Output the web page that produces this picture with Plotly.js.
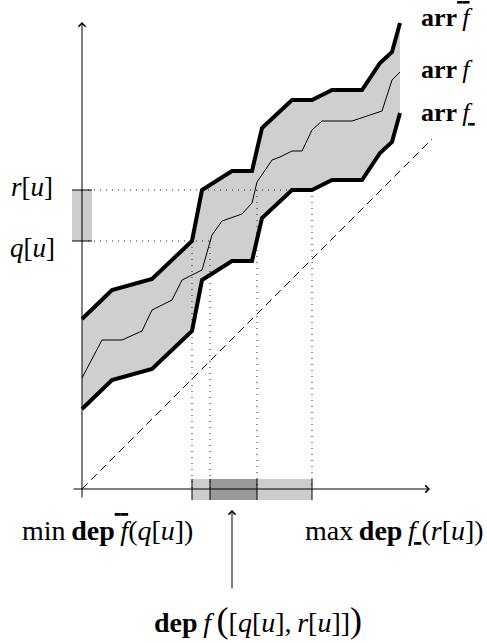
<!DOCTYPE html>
<html>
<head>
<meta charset="utf-8">
<script src="https://cdn.plot.ly/plotly-3.0.1.min.js"></script>
<style>html,body{margin:0;padding:0;background:#fff;}</style>
</head>
<body>
<div id="chart" style="width:487px;height:643px;"></div>
<script>
// ---- data ----
const bandX      = [0, 30, 70, 110, 120, 150, 170, 180, 210, 230, 250, 280, 298, 310, 318];
const arrUpper   = [170, 199, 210, 248, 299, 318, 318, 361, 389, 389, 399, 399, 426, 437, 466];
const arrLower   = [80, 109, 120, 158, 209, 228, 228, 271, 299, 299, 309, 309, 336, 347, 376];
const midX       = [0, 20, 40, 60, 70, 90, 100, 120, 130, 140, 160, 170, 175, 190, 198, 210, 220, 230, 240, 270, 300, 310, 318];
const arrMid     = [111, 149, 149, 158, 179, 189, 209, 219, 254, 268, 275, 286, 307, 329, 332, 338, 338, 359, 368, 368, 378, 409, 417];
const qU = 248;            // q[u]
const rU = 299;            // r[u]
const minDepUpperQ = 110;  // min dep upper(q[u])
const depA = 128;          // dep f(q[u])
const depB = 175;          // dep f(r[u])
const maxDepLowerR = 230;  // max dep lower(r[u])
const diagX = [0, 350];
const diagY = [0, 350];

const FONT = '"Liberation Serif", "Times New Roman", serif';
const dotLine = {color: '#222', width: 1, dash: '1px,5px'};

const traces = [
  {x: bandX, y: arrLower, mode: 'lines', line: {width: 0, color: 'rgba(0,0,0,0)'}, hoverinfo: 'skip'},
  {x: bandX, y: arrUpper, mode: 'lines', fill: 'tonexty', fillcolor: '#cfcfcf', line: {width: 0, color: 'rgba(0,0,0,0)'}, hoverinfo: 'skip'},
  {x: [0, maxDepLowerR], y: [rU, rU], mode: 'lines', line: dotLine},
  {x: [0, depA], y: [qU, qU], mode: 'lines', line: dotLine},
  {x: [minDepUpperQ, minDepUpperQ], y: [qU, 0], mode: 'lines', line: dotLine},
  {x: [depA, depA], y: [qU, 0], mode: 'lines', line: dotLine},
  {x: [depB, depB], y: [rU, 0], mode: 'lines', line: dotLine},
  {x: [maxDepLowerR, maxDepLowerR], y: [rU, 0], mode: 'lines', line: dotLine},
  {x: diagX, y: diagY, mode: 'lines', line: {color: '#000', width: 1, dash: '8px,5px'}},
  {x: midX, y: arrMid, mode: 'lines', line: {color: '#000', width: 1}},
  {x: bandX, y: arrUpper, mode: 'lines', line: {color: '#000', width: 4}},
  {x: bandX, y: arrLower, mode: 'lines', line: {color: '#000', width: 4}}
];

const shapes = [
  {type: 'rect', x0: -10, x1: 10, y0: qU, y1: rU, fillcolor: '#cccccc', line: {width: 0}, layer: 'below'},
  {type: 'rect', x0: minDepUpperQ, x1: maxDepLowerR, y0: -11, y1: 10, fillcolor: '#cccccc', line: {width: 0}, layer: 'below'},
  {type: 'rect', x0: depA, x1: depB, y0: -11, y1: 10, fillcolor: '#999999', line: {width: 0}, layer: 'below'},
  {type: 'line', x0: -10, x1: 10, y0: qU, y1: qU, line: {color: '#000', width: 1}},
  {type: 'line', x0: -10, x1: 10, y0: rU, y1: rU, line: {color: '#000', width: 1}},
  {type: 'line', x0: minDepUpperQ, x1: minDepUpperQ, y0: -11, y1: 10, line: {color: '#000', width: 1}},
  {type: 'line', x0: depA, x1: depA, y0: -11, y1: 10, line: {color: '#000', width: 1}},
  {type: 'line', x0: depB, x1: depB, y0: -11, y1: 10, line: {color: '#000', width: 1}},
  {type: 'line', x0: maxDepLowerR, x1: maxDepLowerR, y0: -11, y1: 10, line: {color: '#000', width: 1}}
];

const ov = '<span style="text-decoration:overline;text-decoration-thickness:1.5px">\u2009<i>f</i></span>';
const un = '<span style="text-decoration:underline;text-decoration-thickness:1.5px;text-underline-offset:7px"><i>f</i>\u2009</span>';
const bigL = '<span style="font-size:36px">(</span>';
const bigR = '<span style="font-size:36px">)</span>';

function arrow(x, y, ax, ay) {
  return {x: x, y: y, ax: ax, ay: ay, xref: 'x', yref: 'y', axref: 'x', ayref: 'y', text: '',
          showarrow: true, arrowhead: 4, arrowsize: 1.4, arrowwidth: 1, arrowcolor: '#000'};
}
function label(x, y, text, size, xanchor) {
  return {x: x, y: y, xref: 'x', yref: 'y', text: text, showarrow: false, xanchor: xanchor || 'center', yanchor: 'middle',
          font: {family: FONT, size: size, color: '#000'}};
}

const annotations = [
  arrow(348, 0, -10, 0),
  arrow(0, 467, 0, -10),
  arrow(150, -21, 150, -101),
  label(337, 472, '<b>arr</b>' + ov, 26, 'left'),
  label(337, 420, '<b>arr</b>\u2009<i>f</i>', 26, 'left'),
  label(337, 377, '<b>arr</b>\u2009' + un, 26, 'left'),
  label(-50, 302, '<i>r</i>[<i>u</i>]', 27),
  label(-50, 241, '<i>q</i>[<i>u</i>]', 27),
  label(25, -41, 'min\u2009<b>dep</b>' + ov + '(<i>q</i>[<i>u</i>])', 28),
  label(312, -41, 'max\u2009<b>dep</b>\u2009' + un + '(<i>r</i>[<i>u</i>])', 28),
  label(176, -131, '<b>dep</b>\u2009<i>f</i>\u2009' + bigL + '[<i>q</i>[<i>u</i>],\u2009<i>r</i>[<i>u</i>]]' + bigR, 28)
];

const layout = {
  width: 487, height: 643,
  margin: {l: 0, r: 0, t: 0, b: 0},
  paper_bgcolor: '#fff', plot_bgcolor: '#fff',
  showlegend: false,
  xaxis: {range: [-82, 405], visible: false, fixedrange: true},
  yaxis: {range: [-154, 489], visible: false, fixedrange: true},
  shapes: shapes,
  annotations: annotations
};

Plotly.newPlot('chart', traces, layout, {displayModeBar: false, staticPlot: true});
</script>
</body>
</html>
